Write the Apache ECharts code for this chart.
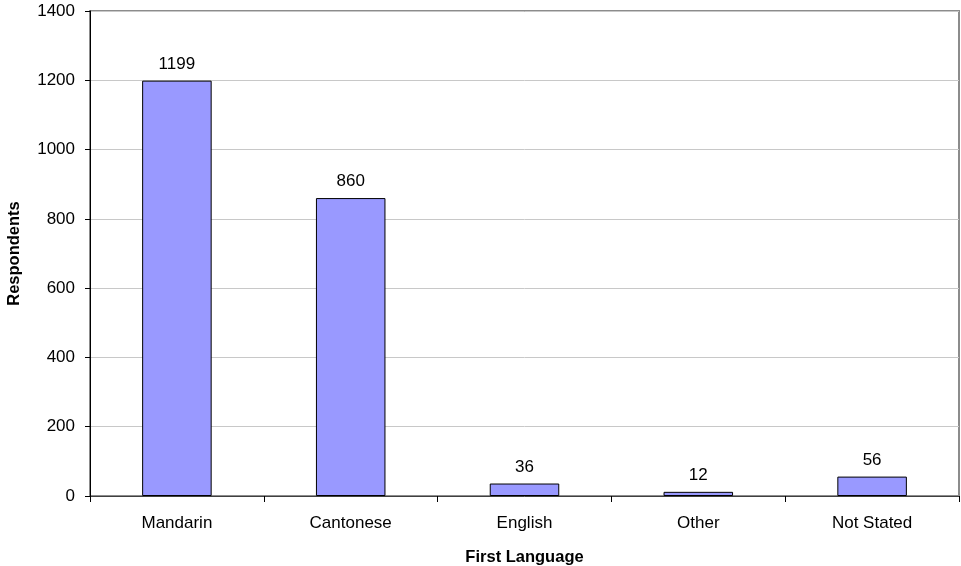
<!DOCTYPE html>
<html>
<head>
<meta charset="utf-8">
<script src="https://cdn.jsdelivr.net/npm/echarts@6/dist/echarts.min.js"></script>
<style>
  html, body { margin: 0; padding: 0; background: #fff; }
  #chart { width: 961px; height: 566px; }
</style>
</head>
<body>
<div id="chart"></div>
<script>
// First language of survey respondents
const categories = ['Mandarin', 'Cantonese', 'English', 'Other', 'Not Stated'];
const respondents = [1199, 860, 36, 12, 56];
const yTicks = { min: 0, max: 1400, interval: 200 };

const FONT = '"Liberation Sans", Arial, sans-serif';
const chart = echarts.init(document.getElementById('chart'));
chart.setOption({
  animation: false,
  backgroundColor: '#ffffff',
  grid: {
    left: 90, right: 2, top: 11, bottom: 70,
    outerBoundsMode: 'none',
    containLabel: false,
    show: true, borderColor: '#8c8c8c', borderWidth: 2, backgroundColor: 'transparent'
  },
  xAxis: {
    type: 'category',
    data: categories,
    name: 'First Language',
    nameLocation: 'middle',
    nameGap: 53,
    nameTextStyle: { fontFamily: FONT, fontSize: 16.5, fontWeight: 'bold', color: '#000' },
    axisLine: { lineStyle: { color: '#404040', width: 1 } },
    axisTick: { show: true, length: 6, alignWithLabel: false, lineStyle: { color: '#000' } },
    axisLabel: { fontFamily: FONT, fontSize: 17, color: '#000', margin: 19 }
  },
  yAxis: {
    type: 'value',
    min: yTicks.min, max: yTicks.max, interval: yTicks.interval,
    name: 'Respondents',
    nameLocation: 'middle',
    nameGap: 67,
    nameTextStyle: { fontFamily: FONT, fontSize: 16.5, fontWeight: 'bold', color: '#000' },
    axisLine: { show: true, lineStyle: { color: '#000', width: 1 } },
    axisTick: { show: true, length: 5, lineStyle: { color: '#000' } },
    axisLabel: { fontFamily: FONT, fontSize: 17, color: '#000', margin: 15, formatter: v => String(v) },
    splitLine: { show: true, lineStyle: { color: '#c8c8c8', width: 1 } }
  },
  series: [{
    type: 'bar',
    data: respondents,
    barWidth: '40%',
    itemStyle: { color: '#9999ff', borderColor: '#000', borderWidth: 1 },
    label: {
      show: true, position: 'top', distance: 8,
      fontFamily: FONT, fontSize: 17, color: '#000'
    }
  }]
});
</script>
</body>
</html>
